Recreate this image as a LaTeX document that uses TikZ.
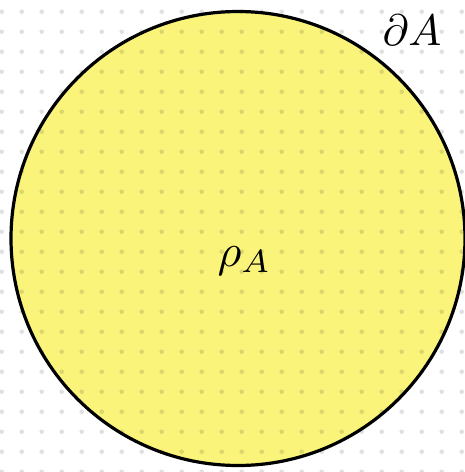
\documentclass[tikz,border=0pt]{standalone}
\usepackage{amsmath}
\usepackage{xcolor}
\usepackage{tikz}
\usetikzlibrary{
	calc,
	positioning
}
\definecolor{PaleYellow}{RGB}{250,244,122}

\begin{document}
\begin{tikzpicture}[x=1pt, y=-1pt, line join=round,
	dot/.style={fill=black, fill opacity=0.12},
	biglabel/.style={inner sep=0pt}]
		\useasboundingbox[fill=white] (0,0) rectangle (465,472);
		
		% region A
		\coordinate (O) at (238,238.5);
		\draw[line width=3.2pt, fill=PaleYellow] (O) circle (227);
		
		% dotted grid on top
		\begin{scope}
			\clip (0,0) rectangle (465,472);
			\foreach \i in {0,...,23}
				\foreach \j in {0,...,23}
					\fill[dot] ({1.7+20*\i},{11.7+20*\j}) circle (2.3);
		\end{scope}
		
		\node[biglabel, anchor=base] (rho) at (244.5,266) {\scalebox{4.6}{$\rho_A$}};
		\node[biglabel, anchor=base] (bdry) at (412,45) {\scalebox{4.4}{$\partial A$}};
	\end{tikzpicture}
\end{document}
